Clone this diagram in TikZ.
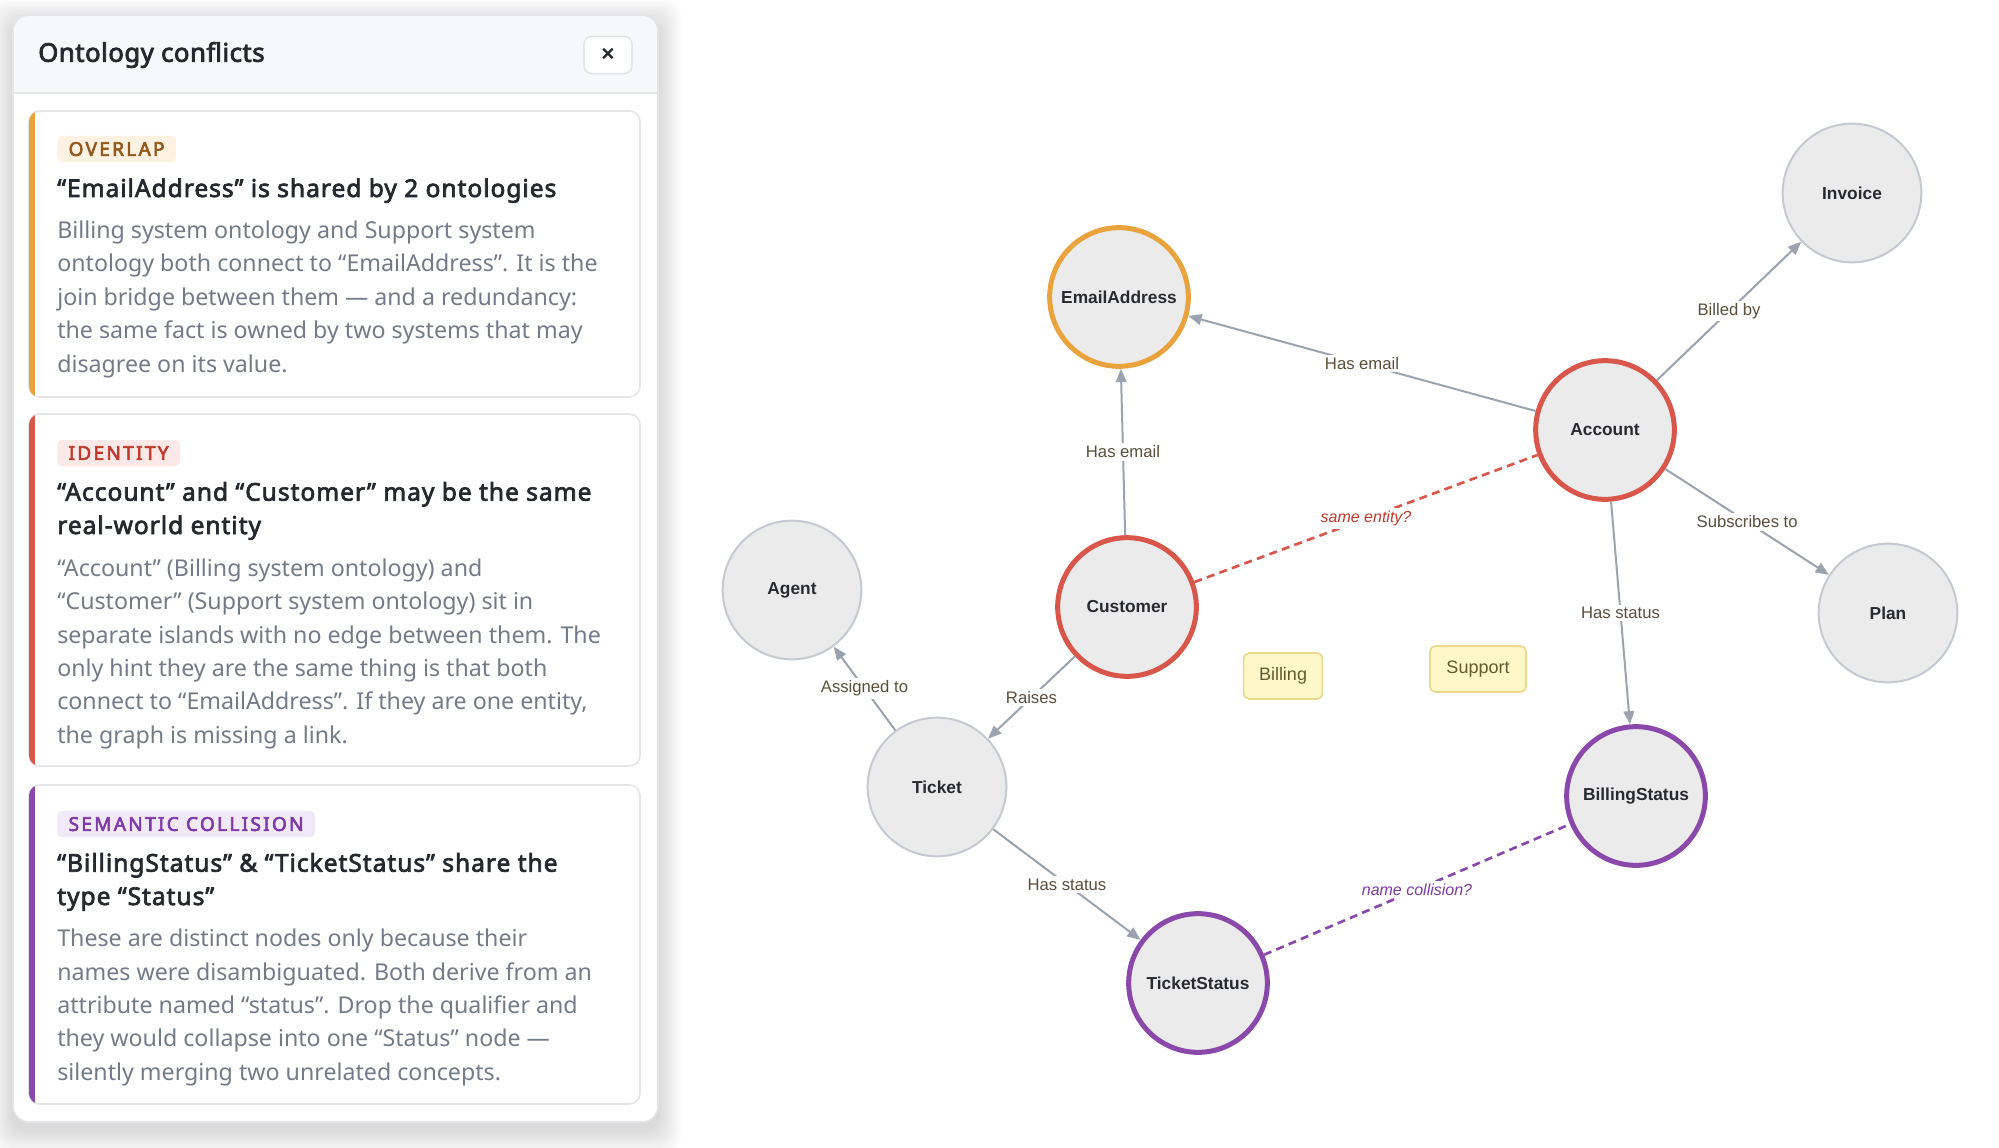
\documentclass[tikz,border=0pt]{standalone}
\usepackage{fontspec}
\setmainfont{Liberation Sans}
\newfontfamily\panelfont{Noto Sans}
\newfontfamily\headfont[FakeBold=3,LetterSpace=2]{Noto Sans}
\newfontfamily\titlefont[FakeBold=2.8,LetterSpace=4]{Noto Sans}
\newfontfamily\badgefont[FakeBold=3.2,LetterSpace=12]{Noto Sans}
\usetikzlibrary{arrows.meta,positioning,calc}
\definecolor{EdgeGrey}{RGB}{154,163,175}
\definecolor{NodeFill}{RGB}{235,235,236}
\definecolor{NodeRim}{RGB}{197,201,210}
\definecolor{NodeInk}{RGB}{40,42,46}
\definecolor{LabelInk}{RGB}{92,78,58}
\definecolor{FlagOrange}{RGB}{234,163,60}
\definecolor{FlagRed}{RGB}{217,87,74}
\definecolor{FlagPurple}{RGB}{137,72,170}
\definecolor{RedInk}{RGB}{192,57,43}
\definecolor{PurpleInk}{RGB}{125,58,166}
\definecolor{OrangeInk}{RGB}{147,88,28}
\definecolor{OrangeTint}{RGB}{253,241,225}
\definecolor{RedTint}{RGB}{251,233,231}
\definecolor{PurpleTint}{RGB}{242,233,248}
\definecolor{BoxFill}{RGB}{254,247,200}
\definecolor{BoxRim}{RGB}{234,217,140}
\definecolor{BoxInk}{RGB}{100,90,50}
\definecolor{PanelLine}{RGB}{227,229,233}
\definecolor{HeadFill}{RGB}{247,248,250}
\definecolor{TitleInk}{RGB}{36,41,47}
\definecolor{BodyInk}{RGB}{115,123,137}

\begin{document}
\begin{tikzpicture}[x=0.75pt,y=-0.75pt,
  entity/.style={circle,draw=NodeRim,line width=1.5pt,fill=NodeFill,minimum size=104pt,inner sep=0pt,
    font=\fontsize{13}{15}\selectfont\bfseries,text=NodeInk},
  flagged/.style={entity,draw=#1,line width=3.75pt},
  edge/.style={EdgeGrey,line width=1.5pt,-{Triangle[length=10pt,width=8pt]}},
  elabel/.style={fill=white,inner sep=2pt,font=\fontsize{12.5}{14}\selectfont,text=LabelInk},
  doubt/.style={#1,line width=2pt,dash pattern=on 6pt off 4pt},
  dlabel/.style={fill=white,inner sep=2pt,font=\fontsize{12}{14}\selectfont\itshape,text=#1},
  tagbox/.style={draw=BoxRim,fill=BoxFill,line width=1.2pt,rounded corners=4pt,minimum height=34.5pt,
    inner xsep=8pt,font=\fontsize{13.5}{15}\selectfont,text=BoxInk},
  badge/.style={fill=#1,rounded corners=3.5pt,inner xsep=8.5pt,minimum height=19.5pt,text height=10.3pt,text depth=0pt,
    font=\badgefont\fontsize{14.3}{16}\selectfont},
  cardtitle/.style={anchor=base west,align=left,inner sep=0pt,font=\titlefont\fontsize{18.4}{25}\selectfont,text=TitleInk},
  cardbody/.style={anchor=base west,align=left,inner sep=0pt,font=\panelfont\fontsize{17.4}{25}\selectfont,text=BodyInk}]
  \useasboundingbox (0,0) rectangle (1999,1148);
  \fill[white] (0,0) rectangle (1999,1148);

  % panel with soft shadow
  \foreach \s in {1,...,12}
    \fill[black,opacity=0.011,rounded corners=14pt] (13-2*\s,23-2*\s) rectangle (658+2*\s,1130+2*\s);
  \fill[white,rounded corners=12pt] (13,15) rectangle (658,1122);
  \begin{scope}
    \clip[rounded corners=12pt] (13,15) rectangle (658,1122);
    \fill[HeadFill] (13,15) rectangle (658,93);
  \end{scope}
  \draw[PanelLine,line width=1.2pt] (13,93) -- (658,93);
  \draw[PanelLine,line width=1.2pt,rounded corners=12pt] (13,15) rectangle (658,1122);
  \node[anchor=west,inner sep=0pt,font=\headfont\fontsize{19.3}{22}\selectfont,text=TitleInk] (hdr) at (38,55) {Ontology conflicts};
  \node[draw=PanelLine,line width=1.2pt,fill=white,rounded corners=6pt,minimum width=36pt,minimum height=28pt,
    font=\fontsize{17}{18}\selectfont\bfseries,text=TitleInk] (close) at (608,55) {×};

  % cards (base anchor of a multi-line node = its last line)
  \foreach \ya/\yb/\col in {111/397/FlagOrange,414/766/FlagRed,785/1104/FlagPurple} {
    \draw[PanelLine,line width=1.2pt,fill=white,rounded corners=8pt] (29,\ya) rectangle (640,\yb);
    \begin{scope}
      \clip[rounded corners=8pt] (29,\ya) rectangle (640,\yb);
      \fill[\col] (28,\ya-1) rectangle (35,\yb+1);
    \end{scope}
  }

  \node[badge=OrangeTint,text=OrangeInk,anchor=west] (tag1) at (57,149) {OVERLAP};
  \node[cardtitle] (head1) at (57,197) {“EmailAddress” is shared by 2 ontologies};
  \node[cardbody] (text1) at (57,372) {Billing system ontology and Support system\\
    ontology both connect to “EmailAddress”. It is the\\
    join bridge between them — and a redundancy:\\
    the same fact is owned by two systems that may\\
    disagree on its value.};

  \node[badge=RedTint,text=RedInk,anchor=west] (tag2) at (57,453) {IDENTITY};
  \node[cardtitle] (head2) at (57,534) {“Account” and “Customer” may be the same\\ real-world entity};
  \node[cardbody] (text2) at (57,743) {“Account” (Billing system ontology) and\\
    “Customer” (Support system ontology) sit in\\
    separate islands with no edge between them. The\\
    only hint they are the same thing is that both\\
    connect to “EmailAddress”. If they are one entity,\\
    the graph is missing a link.};

  \node[badge=PurpleTint,text=PurpleInk,anchor=west] (tag3) at (57,824) {SEMANTIC COLLISION};
  \node[cardtitle] (head3) at (57,905) {“BillingStatus” \& “TicketStatus” share the\\ type “Status”};
  \node[cardbody] (text3) at (57,1080) {These are distinct nodes only because their\\
    names were disambiguated. Both derive from an\\
    attribute named “status”. Drop the qualifier and\\
    they would collapse into one “Status” node —\\
    silently merging two unrelated concepts.};

  % graph
  \node[flagged=FlagOrange] (email) at (1119,297) {EmailAddress};
  \node[flagged=FlagRed] (acct) at (1605,430) {Account};
  \node[flagged=FlagRed] (cust) at (1127,607) {Customer};
  \node[flagged=FlagPurple] (bstat) at (1636,796) {BillingStatus};
  \node[flagged=FlagPurple] (tstat) at (1198,983) {TicketStatus};
  \node[entity] (invoice) at (1852,193) {Invoice};
  \node[entity] (plan) at (1888,613) {Plan};
  \node[entity] (agent) at (792,590) {Agent};
  \node[entity] (ticket) at (937,787) {Ticket};
  \node[tagbox,minimum width=59pt] (billing) at (1283,676) {Billing};
  \node[tagbox,minimum width=72pt] (support) at (1478,669) {Support};

  \draw[edge] (acct) -- node[elabel] {Has email} (email);
  \draw[edge] (cust) -- node[elabel] {Has email} (email);
  \draw[edge] (acct) -- node[elabel] {Billed by} (invoice);
  \draw[edge] (acct) -- node[elabel] {Subscribes to} (plan);
  \draw[edge] (acct) -- node[elabel] {Has status} (bstat);
  \draw[edge] (cust) -- node[elabel] {Raises} (ticket);
  \draw[edge] (ticket) -- node[elabel] {Assigned to} (agent);
  \draw[edge] (ticket) -- node[elabel] {Has status} (tstat);
  \draw[doubt=FlagRed] (cust) -- node[dlabel=RedInk] {same entity?} (acct);
  \draw[doubt=FlagPurple] (tstat) -- node[dlabel=PurpleInk] {name collision?} (bstat);
\end{tikzpicture}
\end{document}
